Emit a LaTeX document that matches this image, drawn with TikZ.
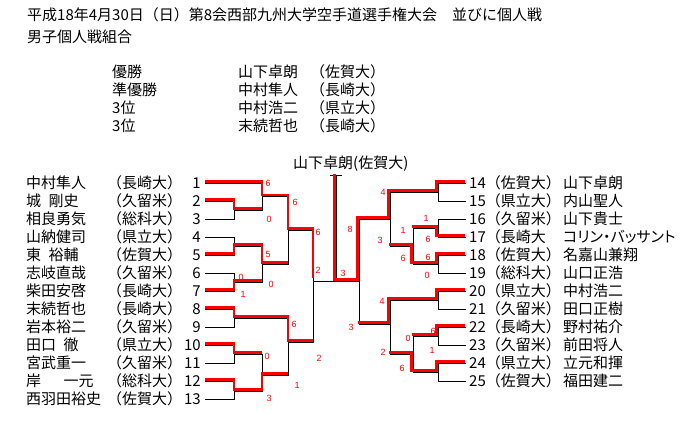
\documentclass[tikz,border=0pt]{standalone}
\usepackage{fontspec}
\setmainfont{Noto Sans CJK JP}
\newfontfamily\scfont{Liberation Sans}
\begin{document}
\begin{tikzpicture}[x=1pt,y=-1pt,
  txt/.style={inner sep=0pt, anchor=base west, font=\fontsize{15}{15}\selectfont},
  txtr/.style={txt, anchor=base east},
  bline/.style={black, line width=1pt},
  win/.style={red, line width=2.8pt},
  winl/.style={win, transform canvas={yshift=1.5pt}},
  winr/.style={win, transform canvas={xshift=-1.5pt,yshift=1.5pt}},
  score/.style={inner sep=0pt, text=red, font=\scfont\fontsize{9}{9}\selectfont}]
\useasboundingbox[fill=white] (0,0) rectangle (682,420);

% header
\node[txt] (title) at (27,20.5) {平成18年4月30日（日）第8会西部九州大学空手道選手権大会　並びに個人戦};
\node[txt] (sub) at (27,42.5) {男子個人戦組合};
\foreach \k/\r/\n/\u in {1/優勝/山下卓朗/佐賀大, 2/準優勝/中村隼人/長崎大, 3/3位/中村浩二/県立大, 4/3位/末続哲也/長崎大}{
  \node[txt] (rk\k) at (112,{77.5+18*(\k-1)}) {\r};
  \node[txt] (rn\k) at (238,{77.5+18*(\k-1)}) {\n};
  \node[txt] (ru\k) at (310,{77.5+18*(\k-1)}) {（\u）};
}
\node[txt] (champname) at (293,168.5) {山下卓朗(佐賀大)};

% left list
\foreach \i/\n/\u in {1/中村隼人/長崎大, 2/城\hspace{7.5pt}剛史/久留米, 3/相良勇気/総科大, 4/山納健司/県立大, 5/東\hspace{7.5pt}裕輔/佐賀大, 6/志岐直哉/久留米, 7/柴田安啓/長崎大, 8/末続哲也/長崎大, 9/岩本裕二/久留米, 10/田口\hspace{7.5pt}徹/県立大, 11/宮武重一/久留米, 12/岸\hspace{22.5pt}一元/総科大, 13/西羽田裕史/佐賀大}{
  \node[txt] (ln\i) at (26,{188.5+18*(\i-1)}) {\n};
  \node[txt] (lu\i) at (107,{188.5+18*(\i-1)}) {（\u）};
  \node[txtr] (lk\i) at (201,{188.5+18*(\i-1)}) {\i};
  \coordinate (pl\i) at (205,{183+18*(\i-1)});
}
% right list
\foreach \j/\u/\n in {14/佐賀大）/山下卓朗, 15/県立大）/内山聖人, 16/久留米）/山下貴士, 18/佐賀大）/名嘉山兼翔, 19/総科大）/山口正浩, 20/県立大）/中村浩二, 21/久留米）/田口正樹, 22/長崎大）/野村祐介, 23/久留米）/前田将人, 24/県立大）/立元和揮, 25/佐賀大）/福田建二}{
  \node[txt] (rk\j) at (469,{188.5+18*(\j-14)}) {\j（\u};
  \node[txt] (rnm\j) at (563,{188.5+18*(\j-14)}) {\n};
}
\node[txt] (rk17) at (469,242.5) {17（長崎大};
\node[txt] (rnm17) at (563,242.5) {\addfontfeature{RawFeature=+palt}コリン・バッサント};
\foreach \j in {14,...,25}{\coordinate (pr\j) at (466,{183+18*(\j-14)});}

% match points
\coordinate (m23) at (234,210);   \coordinate (m45) at (234,246);
\coordinate (m67) at (234,282);   \coordinate (m89) at (234,318);
\coordinate (m1011) at (234,354); \coordinate (m1213) at (234,391);
\coordinate (m13) at (262,196.5); \coordinate (m47) at (262,264);
\coordinate (m1013) at (262,375);
\coordinate (m17) at (288,230);   \coordinate (m813) at (288,342);
\coordinate (mL) at (313,281);    \coordinate (mR) at (359,281);
\coordinate (fin) at (336,281);   \coordinate (champ) at (336,175);
\coordinate (capl) at (330,175);  \coordinate (capr) at (342,175);
\coordinate (m1415) at (438,192); \coordinate (m1617) at (438,228);
\coordinate (m1819) at (438,264); \coordinate (m2021) at (438,300);
\coordinate (m2223) at (438,336); \coordinate (m2425) at (438,372);
\coordinate (m1619) at (413,246); \coordinate (m2225) at (413,354);
\coordinate (m1419) at (390,219); \coordinate (m2025) at (390,324);

% black bracket, left
\draw[bline] (pl2) -- (pl2 -| m23) -- (pl3 -| m23) -- (pl3);
\draw[bline] (pl4) -- (pl4 -| m45) -- (pl5 -| m45) -- (pl5);
\draw[bline] (pl6) -- (pl6 -| m67) -- (pl7 -| m67) -- (pl7);
\draw[bline] (pl8) -- (pl8 -| m89) -- (pl9 -| m89) -- (pl9);
\draw[bline] (pl10) -- (pl10 -| m1011) -- (pl11 -| m1011) -- (pl11);
\draw[bline] (pl12) -- (pl12 -| m1213) -- (pl13 -| m1213) -- (pl13);
\draw[bline] (pl1) -- (pl1 -| m13) -- (m23 -| m13) -- (m23);
\draw[bline] (m45) -- (m45 -| m47) -- (m67 -| m47) -- (m67);
\draw[bline] (m1011) -- (m1011 -| m1013) -- (m1213 -| m1013) -- (m1213);
\draw[bline] (m13) -- (m13 -| m17) -- (m47 -| m17) -- (m47);
\draw[bline] (m89) -- (m89 -| m813) -- (m1013 -| m813) -- (m1013);
\draw[bline] (m17) -- (m17 -| mL) -- (m813 -| mL) -- (m813);
% final
\draw[bline] (mL) -- (mR);
\draw[bline] (fin) -- (champ);
\draw[bline] (capl) -- (capr);
% black bracket, right
\draw[bline] (pr14) -- (pr14 -| m1415) -- (pr15 -| m1415) -- (pr15);
\draw[bline] (pr16) -- (pr16 -| m1617) -- (pr17 -| m1617) -- (pr17);
\draw[bline] (pr18) -- (pr18 -| m1819) -- (pr19 -| m1819) -- (pr19);
\draw[bline] (pr20) -- (pr20 -| m2021) -- (pr21 -| m2021) -- (pr21);
\draw[bline] (pr22) -- (pr22 -| m2223) -- (pr23 -| m2223) -- (pr23);
\draw[bline] (pr24) -- (pr24 -| m2425) -- (pr25 -| m2425) -- (pr25);
\draw[bline] (m1617) -- (m1617 -| m1619) -- (m1819 -| m1619) -- (m1819);
\draw[bline] (m2223) -- (m2223 -| m2225) -- (m2425 -| m2225) -- (m2425);
\draw[bline] (m1415) -- (m1415 -| m1419) -- (m1619 -| m1419) -- (m1619);
\draw[bline] (m2021) -- (m2021 -| m2025) -- (m2225 -| m2025) -- (m2225);
\draw[bline] (m1419) -- (m1419 -| mR) -- (m2025 -| mR) -- (m2025);

% winners (red), left
\draw[winl] (pl1) -- (pl1 -| m13) -- (m13) -- (m13 -| m17) -- (m17) -- (m17 -| mL) -- ([yshift=2pt]mL);
\draw[winl] (pl2) -- (pl2 -| m23) -- (m23) -- (m23 -| m13);
\draw[winl] (pl5) -- (pl5 -| m45) -- (m45) -- (m45 -| m47) -- (m47) -- (m47 -| m17);
\draw[winl] (pl7) -- (pl7 -| m67) -- (m67) -- (m67 -| m47);
\draw[winl] (pl8) -- (pl8 -| m89) -- (m89) -- (m89 -| m813) -- (m813) -- (m813 -| mL);
\draw[winl] (pl10) -- (pl10 -| m1011) -- (m1011) -- (m1011 -| m1013);
\draw[winl] (pl12) -- (pl12 -| m1213) -- (m1213) -- (m1213 -| m1013) -- (m1013) -- (m1013 -| m813);
% winners (red), right
\draw[winr] (pr14) -- (pr14 -| m1415) -- (m1415) -- (m1415 -| m1419) -- (m1419) -- (m1419 -| mR) -- (mR) -- (fin) -- (champ);
\draw[winr] (pr17) -- (pr17 -| m1617) -- (m1617) -- (m1617 -| m1619);
\draw[winr] (pr18) -- (pr18 -| m1819) -- (m1819) -- (m1819 -| m1619) -- (m1619) -- (m1619 -| m1419);
\draw[winr] (pr20) -- (pr20 -| m2021) -- (m2021) -- (m2021 -| m2025) -- (m2025) -- (m2025 -| mR);
\draw[winr] (pr22) -- (pr22 -| m2223) -- (m2223) -- (m2223 -| m2225);
\draw[winr] (pr24) -- (pr24 -| m2425) -- (m2425) -- (m2425 -| m2225) -- (m2225) -- (m2225 -| m2025);

% scores
\foreach \sx/\sy/\st [count=\k] in {268/183/6, 295/202/6, 269/219/0, 318/232/6, 268/254/5, 318/270/2, 241/277/0, 271/284/0, 243/294/1, 294/324/6, 267/356/0, 319/358/2, 297/385/1, 269/398/3, 343/273/3, 350/229/8, 351/327/3, 383/192/4, 426/218/1, 403/230/1, 380/240/3, 428/239/6, 428/257/6, 403/258/6, 427/275/0, 382/301/4, 433/331/6, 408/338/0, 383/352/2, 432/350/1, 402/368/6}{
  \node[score] (sc\k) at (\sx,\sy) {\st};
}
\end{tikzpicture}
\end{document}
